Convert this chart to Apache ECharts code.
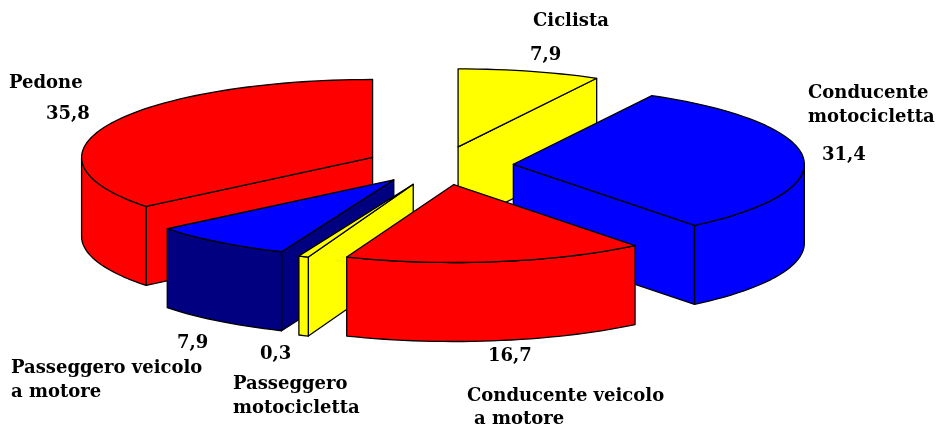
<!DOCTYPE html>
<html>
<head>
<meta charset="utf-8">
<style>html,body{margin:0;padding:0;background:#fff}#c{width:943px;height:428px}</style>
<script src="https://cdn.jsdelivr.net/npm/echarts@6/dist/echarts.min.js"></script>
</head>
<body>
<div id="c"></div>
<script>
// data, clockwise from 12 o'clock
const categories = ['Ciclista', 'Conducente motocicletta', 'Conducente veicolo a motore', 'Passeggero motocicletta', 'Passeggero veicolo a motore', 'Pedone'];
const values = [7.9, 31.4, 16.7, 0.3, 7.9, 35.8];

// styles
const topColors = ['#ffff00', '#0000ff', '#ff0000', '#ffff00', '#0000ff', '#ff0000'];
const sideColors = ['#ffff00', '#0000ff', '#ff0000', '#ffff00', '#000080', '#ff0000'];
const paintOrder = [0, 2, 5, 4, 3, 1];

// pie layout
const cx = 440, cy = 166, rx = 291, ry = 78, depth = 79, explode = 0.253, minSweep = 2;
const nudgeX = [0, 0, 3, 1, -2, -1];
const nudgeY = [0, 0, -1, 0, -2, 0];
const total = values.reduce((a, b) => a + b, 0);
const startAngles = [];
values.reduce((acc, v, i) => { startAngles[i] = acc; return acc + v / total * 360; }, 0);

// label layout
const FONT = 'bold 18px "DejaVu Serif"';
const nameLabels = [
  { t: 'Ciclista', x: 533, y: 21 },
  { t: 'Conducente', x: 808, y: 93 },
  { t: 'motocicletta', x: 808, y: 117 },
  { t: 'Conducente veicolo', x: 467, y: 396 },
  { t: 'a motore', x: 474, y: 419 },
  { t: 'Passeggero', x: 233, y: 384 },
  { t: 'motocicletta', x: 233, y: 408 },
  { t: 'Passeggero veicolo', x: 11, y: 368 },
  { t: 'a motore', x: 11, y: 392 },
  { t: 'Pedone', x: 9, y: 83 }
];
const valueLabelPos = [[530, 55], [822, 155], [488, 356], [260, 354], [177, 343], [46, 114]];

function renderItem(params, api) {
  const i = params.dataIndex;
  const sweep = Math.max(api.value(0) / total * 360, minSweep);
  const mid = startAngles[i] + api.value(0) / total * 180;
  const a0 = mid - sweep / 2, a1 = mid + sweep / 2;
  const rad = d => d * Math.PI / 180;
  const ax = cx + explode * rx * Math.sin(rad(mid)) + nudgeX[i];
  const ay = cy - explode * ry * Math.cos(rad(mid)) + nudgeY[i];
  const pt = d => [ax + rx * Math.sin(rad(d)), ay - ry * Math.cos(rad(d))];
  const down = p => [p[0], p[1] + depth];
  const arc = (s, e) => {
    const n = Math.max(2, Math.ceil((e - s) / 2)), out = [];
    for (let k = 0; k <= n; k++) out.push(pt(s + (e - s) * k / n));
    return out;
  };
  const z = paintOrder[i] * 10;
  const poly = (points, fill, dz) => ({
    type: 'polygon', z2: z + dz, silent: true,
    shape: { points },
    style: { fill, stroke: '#000', lineWidth: 1.3, lineJoin: 'round' }
  });
  const apex = [ax, ay];
  const children = [];
  const wall = d => {
    const p = pt(d);
    children.push(poly([apex, p, down(p), down(apex)], sideColors[i], 0));
  };
  if (Math.sin(rad(a0)) < 0) wall(a0);
  if (Math.sin(rad(a1)) > 1e-6) wall(a1);
  const ws = Math.max(a0, 90), we = Math.min(a1, 270);
  if (we > ws) {
    const a = arc(ws, we);
    children.push(poly(a.concat(a.slice().reverse().map(down)), sideColors[i], 1));
  }
  children.push(poly([apex].concat(arc(a0, a1)), topColors[i], 2));
  return { type: 'group', children };
}

const textEl = (t, x, y) => ({
  type: 'text', x, y, silent: true,
  style: { text: t, font: FONT, fill: '#000', textAlign: 'left', textVerticalAlign: 'middle' }
});
const labelEls = nameLabels.map(l => textEl(l.t, l.x, l.y))
  .concat(values.map((v, i) => textEl(String(v).replace('.', ','), valueLabelPos[i][0], valueLabelPos[i][1])));

const chart = echarts.init(document.getElementById('c'), null, { renderer: 'canvas' });
chart.setOption({
  animation: false,
  backgroundColor: '#fff',
  graphic: labelEls,
  series: [{
    type: 'custom',
    coordinateSystem: 'none',
    renderItem,
    clip: false,
    data: values.map((v, i) => ({ name: categories[i], value: [v] }))
  }]
});
</script>
</body>
</html>
